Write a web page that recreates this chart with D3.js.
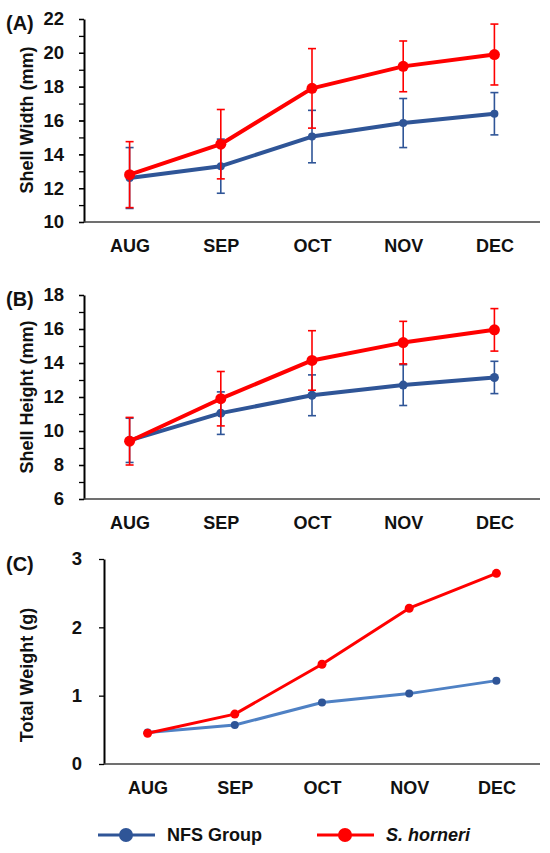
<!DOCTYPE html>
<html>
<head>
<meta charset="utf-8">
<script src="https://cdn.jsdelivr.net/npm/d3@7"></script>
<style>
  body { margin: 0; background: #fff; }
  text { font-family: "Liberation Sans", Arial, sans-serif; font-weight: bold; }
</style>
</head>
<body>
<svg id="chart" width="550" height="853"></svg>
<script>
const months = ["AUG", "SEP", "OCT", "NOV", "DEC"];
const seriesNames = ["NFS Group", "S. horneri"];

// (A) shell width, mean and sd
const widthNFS = [12.6, 13.3, 15.05, 15.85, 16.4];
const widthNFSErr = [1.8, 1.6, 1.55, 1.45, 1.25];
const widthSH = [12.8, 14.6, 17.9, 19.2, 19.9];
const widthSHErr = [1.95, 2.05, 2.35, 1.5, 1.8];

// (B) shell height
const heightNFS = [9.45, 11.05, 12.1, 12.7, 13.15];
const heightNFSErr = [1.3, 1.25, 1.2, 1.2, 0.95];
const heightSH = [9.4, 11.9, 14.15, 15.2, 15.95];
const heightSHErr = [1.4, 1.6, 1.75, 1.25, 1.25];

// (C) total weight
const weightNFS = [0.46, 0.57, 0.90, 1.03, 1.22];
const weightSH = [0.45, 0.73, 1.46, 2.28, 2.79];

const widthTicks = [10, 12, 14, 16, 18, 20, 22];
const heightTicks = [6, 8, 10, 12, 14, 16, 18];
const weightTicks = [0, 1, 2, 3];

const red = "#ff0000",
  blue = "#2f5597",
  lightBlue = "#4f81c4";

const font = '"Liberation Sans", Arial, sans-serif';
const svg = d3.select("#chart");

function panel(opt) {
  const x = d3.scalePoint().domain(months).range([opt.left, opt.right]).padding(0.5);
  const y = d3.scaleLinear().domain(opt.domain).range([opt.bottom, opt.top]);
  const g = svg.append("g");

  // minor ticks every unit
  if (opt.minor) {
    g.append("g")
      .attr("transform", `translate(${opt.left},0)`)
      .call(d3.axisLeft(y).tickValues(d3.range(opt.domain[0], opt.domain[1] + 1, 1)).tickSize(5).tickFormat(""))
      .call(a => a.select(".domain").remove())
      .selectAll("line").attr("stroke", "#000").attr("stroke-width", 1.3);
  }

  const ya = g.append("g")
    .attr("transform", `translate(${opt.left},0)`)
    .call(d3.axisLeft(y).tickValues(opt.ticks).tickFormat(d3.format("d"))
      .tickSize(5).tickSizeOuter(0).tickPadding(opt.tickPad));
  ya.select(".domain").attr("stroke", "#000").attr("stroke-width", 2);
  ya.selectAll("line").attr("stroke", "#000").attr("stroke-width", 1.3);
  ya.selectAll("text").attr("font-size", 18.5).attr("fill", "#111")
    .style("font-family", font).style("font-weight", "bold");

  const xa = g.append("g")
    .attr("transform", `translate(0,${opt.bottom})`)
    .call(d3.axisBottom(x).tickSize(0).tickPadding(17));
  xa.select(".domain").attr("stroke", "#404040").attr("stroke-width", 1.6)
    .attr("d", `M${opt.left},0H${opt.right}`);
  xa.selectAll("text").attr("font-size", 18).attr("fill", "#111")
    .style("font-family", font).style("font-weight", "bold");

  g.append("text")
    .attr("transform", `translate(27,${opt.titleY}) rotate(-90)`)
    .attr("text-anchor", "middle")
    .attr("dy", "0.35em")
    .attr("font-size", 18)
    .attr("fill", "#111")
    .text(opt.title);

  g.append("text")
    .attr("x", 6).attr("y", opt.labelY)
    .attr("font-size", 20)
    .attr("fill", "#111")
    .text(opt.label);

  opt.series.forEach(s => {
    const pts = months.map((m, i) => ({m, v: s.values[i], e: s.errors ? s.errors[i] : 0}));
    if (s.errors) {
      const eb = g.append("g").attr("stroke", s.color).attr("stroke-width", 1.6);
      pts.forEach(d => {
        const cx = x(d.m);
        eb.append("line").attr("x1", cx).attr("x2", cx).attr("y1", y(d.v - d.e)).attr("y2", y(d.v + d.e));
        eb.append("line").attr("x1", cx - 4).attr("x2", cx + 4).attr("y1", y(d.v - d.e)).attr("y2", y(d.v - d.e));
        eb.append("line").attr("x1", cx - 4).attr("x2", cx + 4).attr("y1", y(d.v + d.e)).attr("y2", y(d.v + d.e));
      });
    }
    g.append("path")
      .datum(pts)
      .attr("fill", "none")
      .attr("stroke", s.lineColor || s.color)
      .attr("stroke-width", s.width)
      .attr("stroke-linejoin", "round")
      .attr("d", d3.line().x(d => x(d.m)).y(d => y(d.v)));
    g.selectAll(null)
      .data(pts)
      .enter().append("circle")
      .attr("cx", d => x(d.m))
      .attr("cy", d => y(d.v))
      .attr("r", s.r)
      .attr("fill", s.color);
  });
}

panel({
  left: 84, right: 540, top: 19, bottom: 222,
  domain: [10, 22], ticks: widthTicks, minor: true, tickPad: 15,
  title: "Shell Width (mm)", titleY: 120, label: "(A)", labelY: 30,
  series: [
    {values: widthNFS, errors: widthNFSErr, color: blue, width: 4, r: 4},
    {values: widthSH, errors: widthSHErr, color: red, width: 4, r: 5.5}
  ]
});

panel({
  left: 84, right: 540, top: 295, bottom: 499,
  domain: [6, 18], ticks: heightTicks, minor: true, tickPad: 15,
  title: "Shell Height (mm)", titleY: 397, label: "(B)", labelY: 306,
  series: [
    {values: heightNFS, errors: heightNFSErr, color: blue, width: 4, r: 4.5},
    {values: heightSH, errors: heightSHErr, color: red, width: 4, r: 5.5}
  ]
});

panel({
  left: 104, right: 540, top: 559, bottom: 764,
  domain: [0, 3], ticks: weightTicks, minor: false, tickPad: 17,
  title: "Total Weight (g)", titleY: 675, label: "(C)", labelY: 571,
  series: [
    {values: weightNFS, color: blue, lineColor: lightBlue, width: 3, r: 4},
    {values: weightSH, color: red, width: 3, r: 4.5}
  ]
});

// legend
const legend = svg.append("g").attr("transform", "translate(0,835)");
const legendItems = [
  {name: seriesNames[0], color: blue, x: 98, italic: false},
  {name: seriesNames[1], color: red, x: 317, italic: true}
];
legendItems.forEach(d => {
  legend.append("line").attr("x1", d.x).attr("x2", d.x + 57).attr("y1", 0).attr("y2", 0)
    .attr("stroke", d.color).attr("stroke-width", 3);
  legend.append("circle").attr("cx", d.x + 28).attr("cy", 0).attr("r", 7).attr("fill", d.color);
  legend.append("text").attr("x", d.x + 69).attr("dy", "0.35em")
    .attr("font-size", 18).attr("fill", "#111")
    .style("font-style", d.italic ? "italic" : "normal")
    .text(d.name);
});
</script>
</body>
</html>
